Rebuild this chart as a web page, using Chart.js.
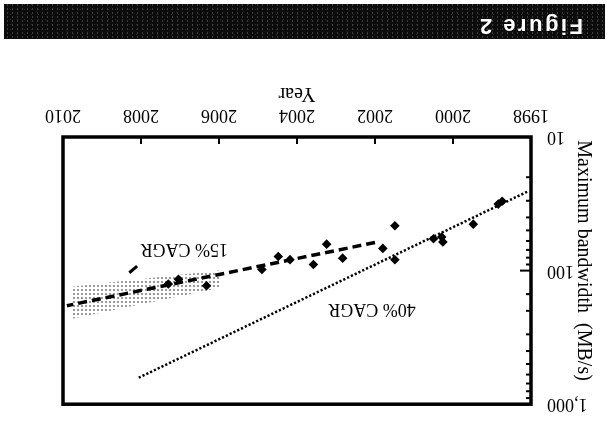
<!DOCTYPE html>
<html><head><meta charset="utf-8">
<script src="https://cdn.jsdelivr.net/npm/chart.js@4"></script>
<style>
html,body{margin:0;padding:0;background:#fff;}
#root{position:relative;width:607px;height:423px;transform:rotate(180deg);transform-origin:50% 50%;overflow:hidden;background:#fff;}
#c{position:absolute;left:0;top:0;}
#banner{position:absolute;left:2px;top:384px;width:601px;height:35px;background-color:#0c0c0c;
background-image:radial-gradient(circle, rgba(150,150,150,0.35) 0.6px, transparent 1px), radial-gradient(circle, rgba(110,110,110,0.3) 0.5px, transparent 0.9px);
background-size:5px 4px, 7px 5px;background-position:0 0, 3px 2px;}
#banner span{position:absolute;left:22px;top:0;line-height:35px;color:#fff;font:bold 22px "Liberation Sans",Arial,sans-serif;letter-spacing:2.5px;white-space:nowrap;}
</style></head>
<body>
<div id="root">
<canvas id="c" width="607" height="423"></canvas>
<div id="banner"><span>Figure 2</span></div>
</div>
<script>
// ---- data ----
const xTickLabels = ['1998','2000','2002','2004','2006','2008','2010'];
const yTickLabels = ['10','100','1,000'];
const pointYears  = [1998.74, 1998.84, 1999.48, 2000.26, 2000.29, 2000.50, 2001.49, 2001.49, 2001.80, 2002.83, 2003.24, 2003.58, 2004.18, 2004.48, 2004.90, 2006.32, 2007.04, 2007.30];
const pointValues = [30.3,    31.8,    44.9,    61,      56,      57.7,    46.2,    83,      68.2,    80.7,    63.4,    90,      82.8,    78.5,    98,      130,     116,     126];
const cagr40Years  = [1998.1, 2008.07];
const cagr40Values = [25.7, 636];
const cagr15Years  = [2002.0, 2009.9];
const cagr15Values = [61.6, 183];
const coneYears = [2006.0, 2009.8];
const coneLow   = [100, 132];
const coneHigh  = [135, 230];
const pointerYears  = [2008.1, 2008.3];
const pointerValues = [92.7, 103.8];
const annotationTexts  = ['15% CAGR', '40% CAGR'];
const annotationYears  = [2006.89, 2002.08];
const annotationValues = [68.2, 193];
const xTitle = 'Year';
const yTitle = 'Maximum bandwidth  (MB/s)    ';

const zip = (xs, ys) => xs.map((x, i) => ({x, y: ys[i]}));

// stipple pattern for the uncertainty cone
const pc = document.createElement('canvas'); pc.width = 4; pc.height = 4;
const pctx = pc.getContext('2d'); pctx.fillStyle = '#9a9a9a'; pctx.fillRect(0, 0, 2, 2);
const stipple = pctx.createPattern(pc, 'repeat');

const SERIF = '"Liberation Serif", "Times New Roman", serif';
Chart.defaults.font.family = SERIF;
Chart.defaults.color = '#000';

const framePlugin = {
  id: 'frame',
  afterDatasetsDraw(chart) {
    const {ctx, chartArea: a, scales: {x, y}} = chart;
    ctx.save();
    ctx.strokeStyle = '#000';
    ctx.lineWidth = 2;
    y.ticks.forEach(t => {
      const py = y.getPixelForValue(t.value);
      const l = Math.log10(t.value);
      const major = Math.abs(l - Math.round(l)) < 1e-6;
      const len = major ? 11 : 5;
      ctx.beginPath(); ctx.moveTo(a.left, py); ctx.lineTo(a.left + len, py); ctx.stroke();
    });
    x.ticks.forEach(t => {
      const px = x.getPixelForValue(t.value);
      ctx.beginPath(); ctx.moveTo(px, a.bottom); ctx.lineTo(px, a.bottom - 7); ctx.stroke();
    });
    ctx.lineWidth = 3.5;
    ctx.strokeRect(a.left, a.top, a.right - a.left, a.bottom - a.top);
    ctx.fillStyle = '#000';
    ctx.font = '18px ' + SERIF;
    ctx.textAlign = 'center'; ctx.textBaseline = 'middle';
    annotationTexts.forEach((s, i) => ctx.fillText(s, x.getPixelForValue(annotationYears[i]), y.getPixelForValue(annotationValues[i])));
    ctx.restore();
  }
};

new Chart(document.getElementById('c'), {
  type: 'line',
  data: {
    datasets: [
      { data: zip(pointYears, pointValues), showLine: false, pointStyle: 'rectRot', pointRadius: 4.8,
        pointBackgroundColor: '#000', pointBorderWidth: 0, order: 0 },
      { data: zip(cagr40Years, cagr40Values), borderColor: '#000', borderWidth: 2.5, borderDash: [2.2, 2.0],
        pointRadius: 0, fill: false, order: 1 },
      { data: zip(cagr15Years, cagr15Values), borderColor: '#000', borderWidth: 3.5, borderDash: [9, 5],
        pointRadius: 0, fill: false, order: 1 },
      { data: zip(pointerYears, pointerValues), borderColor: '#000', borderWidth: 3,
        pointRadius: 0, fill: false, order: 1 },
      { data: zip(coneYears, coneLow), borderWidth: 0, borderColor: 'rgba(0,0,0,0)', pointRadius: 0, fill: false, order: 10 },
      { data: zip(coneYears, coneHigh), borderWidth: 0, borderColor: 'rgba(0,0,0,0)', pointRadius: 0,
        fill: '-1', backgroundColor: stipple, order: 10 }
    ]
  },
  options: {
    responsive: false, animation: false, devicePixelRatio: 1,
    layout: { padding: { top: 11, right: 63, bottom: 0, left: 0 } },
    plugins: { legend: { display: false }, tooltip: { enabled: false } },
    scales: {
      x: {
        type: 'linear', min: 1998, max: 2010,
        grid: { display: false }, border: { display: false },
        ticks: { stepSize: 2, autoSkip: false, maxRotation: 0, padding: 3, font: { size: 18 },
          callback: (v, i) => xTickLabels[i] },
        title: { display: true, text: xTitle, font: { size: 20 }, padding: { top: 0, bottom: 81 } },
        afterFit: s => { s.height = 137; }
      },
      y: {
        type: 'logarithmic', min: 10, max: 1000,
        grid: { display: false }, border: { display: false },
        ticks: { autoSkip: false, padding: 8, font: { size: 18 },
          callback: v => { const l = Math.log10(v); return Math.abs(l - Math.round(l)) < 1e-6 ? yTickLabels[Math.round(l) - 1] : ''; } },
        title: { display: true, text: yTitle, font: { size: 20 }, padding: { top: 11.5, bottom: 0 } },
        afterFit: s => { s.width = 76; }
      }
    }
  },
  plugins: [framePlugin]
});
</script>
</body></html>
